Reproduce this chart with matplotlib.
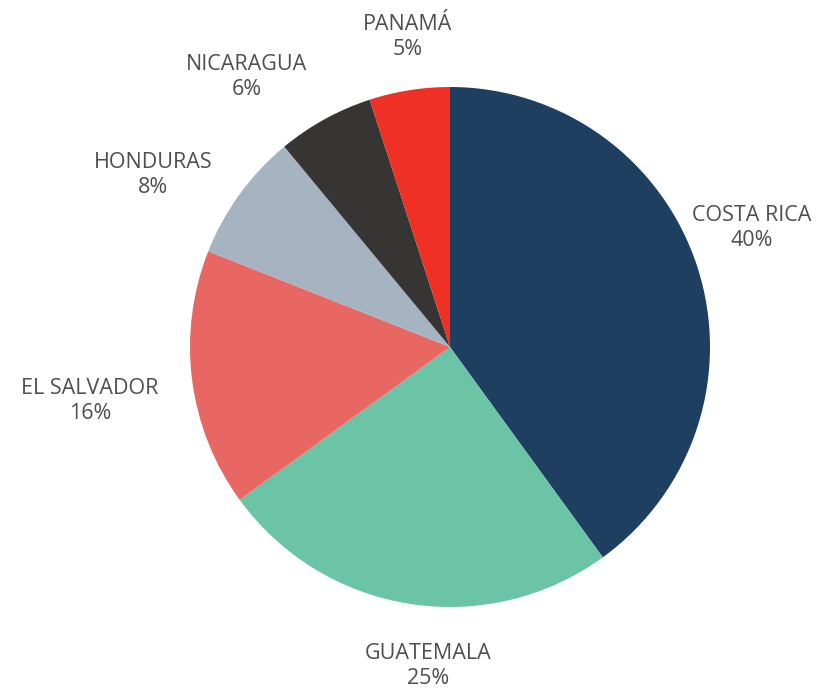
import matplotlib.pyplot as plt

countries = ["COSTA RICA", "GUATEMALA", "EL SALVADOR", "HONDURAS", "NICARAGUA", "PANAMÁ"]
shares = [40, 25, 16, 8, 6, 5]
colors = ["#1f3f60", "#6bc4a6", "#e96762", "#a6b3c1", "#363534", "#ee3124"]

# label anchor points in figure pixels (x, y from top)
label_pos = [(752, 228), (428, 666), (90, 401), (153, 175), (247, 77), (408, 37)]

W, H = 827, 692
fig = plt.figure(figsize=(W / 100, H / 100), dpi=100)
ax = fig.add_axes([0, 0, 1, 1])

ax.pie(shares, colors=colors, startangle=90, counterclock=False,
       center=(450, H - 347), radius=260,
       wedgeprops=dict(linewidth=0))

# pie() changes the limits, so set them afterwards
ax.set_xlim(0, W)
ax.set_ylim(0, H)
ax.set_aspect("auto")
ax.axis("off")

for name, val, (x, y) in zip(countries, shares, label_pos):
    ax.text(x, H - y, "{}\n{}%".format(name, val), ha="center", va="center",
            fontsize=15.5, color="#4f4f4f", family="Open Sans",
            linespacing=1.2)

fig.savefig("out.png", dpi=100)
